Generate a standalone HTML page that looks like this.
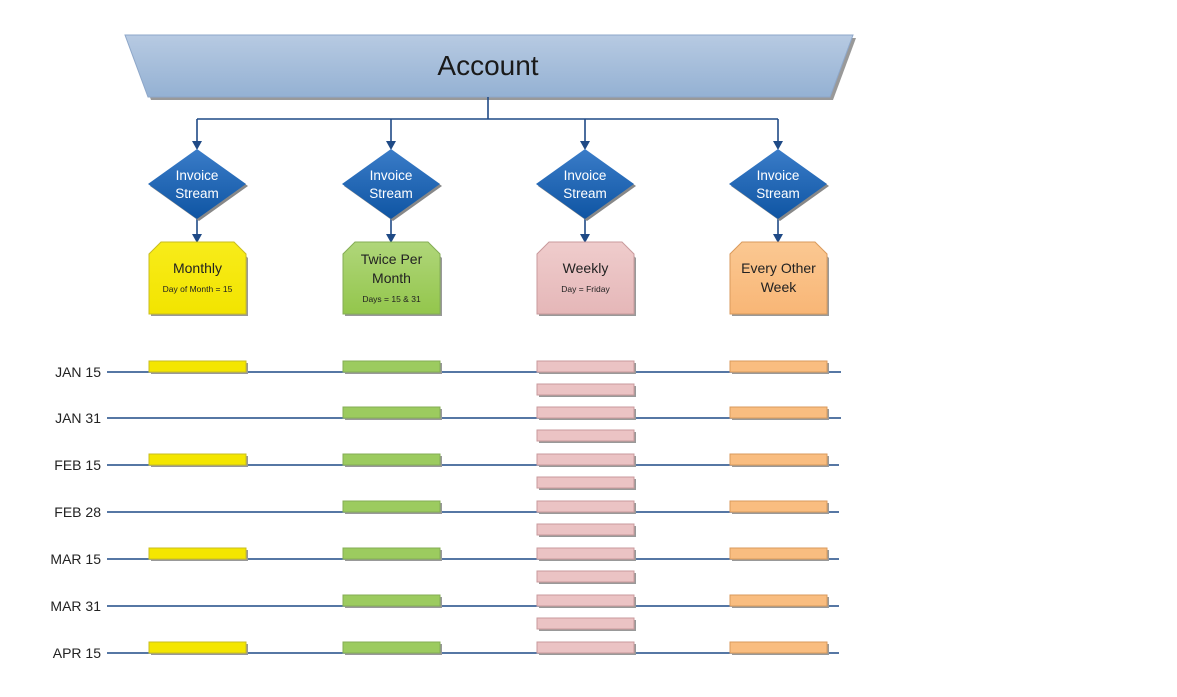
<!DOCTYPE html>
<html><head><meta charset="utf-8"><style>
html,body{margin:0;padding:0;background:#fff;}
svg{display:block;font-family:"Liberation Sans",sans-serif;}
</style></head><body>
<svg width="1177" height="697" viewBox="0 0 1177 697" xmlns="http://www.w3.org/2000/svg">
<defs>
<linearGradient id="acc" x1="0" y1="0" x2="0" y2="1"><stop offset="0" stop-color="#b7cae2"/><stop offset="1" stop-color="#94b1d3"/></linearGradient>
<linearGradient id="dia" x1="0" y1="0" x2="0" y2="1"><stop offset="0" stop-color="#3a7cc8"/><stop offset="1" stop-color="#0f55a3"/></linearGradient>
<linearGradient id="yel" x1="0" y1="0" x2="0" y2="1"><stop offset="0" stop-color="#f8ec1a"/><stop offset="1" stop-color="#f2e400"/></linearGradient>
<linearGradient id="grn" x1="0" y1="0" x2="0" y2="1"><stop offset="0" stop-color="#b0d67a"/><stop offset="1" stop-color="#93c64c"/></linearGradient>
<linearGradient id="pnk" x1="0" y1="0" x2="0" y2="1"><stop offset="0" stop-color="#efcccc"/><stop offset="1" stop-color="#e5b7b8"/></linearGradient>
<linearGradient id="org" x1="0" y1="0" x2="0" y2="1"><stop offset="0" stop-color="#fbc892"/><stop offset="1" stop-color="#f8b676"/></linearGradient>
</defs>
<!-- Account -->
<polygon points="128,38 856,38 833,100 151,100" fill="#999"/>
<polygon points="125,35 853,35 830,97 148,97" fill="url(#acc)" stroke="#8ea7c9" stroke-width="1"/>
<text x="488" y="75" font-size="28" text-anchor="middle" fill="#1a1a1a">Account</text>
<!-- connectors -->
<g stroke="#1f4a86" stroke-width="1.6" fill="none">
<line x1="488" y1="97" x2="488" y2="119"/>
<line x1="197" y1="119" x2="778" y2="119"/>
<line x1="197" y1="119" x2="197" y2="142"/>
<line x1="391" y1="119" x2="391" y2="142"/>
<line x1="585" y1="119" x2="585" y2="142"/>
<line x1="778" y1="119" x2="778" y2="142"/>
<line x1="197" y1="219" x2="197" y2="235"/>
<line x1="391" y1="219" x2="391" y2="235"/>
<line x1="585" y1="219" x2="585" y2="235"/>
<line x1="778" y1="219" x2="778" y2="235"/>
</g>
<g fill="#1f4a86">
<polygon points="192,141 202,141 197,150"/><polygon points="386,141 396,141 391,150"/><polygon points="580,141 590,141 585,150"/><polygon points="773,141 783,141 778,150"/>
<polygon points="192,234 202,234 197,243"/><polygon points="386,234 396,234 391,243"/><polygon points="580,234 590,234 585,243"/><polygon points="773,234 783,234 778,243"/>
</g>
<!-- diamonds -->
<g font-size="13.5" fill="#fff" text-anchor="middle">
<g transform="translate(197,184)"><polygon points="2,-33 51,2 2,37 -47,2" fill="#888"/><polygon points="0,-35 49,0 0,35 -49,0" fill="url(#dia)"/><text y="-4" fill="#fff">Invoice</text><text y="14" fill="#fff">Stream</text></g>
<g transform="translate(391,184)"><polygon points="2,-33 51,2 2,37 -47,2" fill="#888"/><polygon points="0,-35 49,0 0,35 -49,0" fill="url(#dia)"/><text y="-4" fill="#fff">Invoice</text><text y="14" fill="#fff">Stream</text></g>
<g transform="translate(585,184)"><polygon points="2,-33 51,2 2,37 -47,2" fill="#888"/><polygon points="0,-35 49,0 0,35 -49,0" fill="url(#dia)"/><text y="-4" fill="#fff">Invoice</text><text y="14" fill="#fff">Stream</text></g>
<g transform="translate(778,184)"><polygon points="2,-33 51,2 2,37 -47,2" fill="#888"/><polygon points="0,-35 49,0 0,35 -49,0" fill="url(#dia)"/><text y="-4" fill="#fff">Invoice</text><text y="14" fill="#fff">Stream</text></g>
</g>
<!-- boxes -->
<g text-anchor="middle" fill="#222">
<g transform="translate(149,242)"><polygon points="14,2 85,2 99,16 99,74 2,74 2,16" fill="#999"/><polygon points="12,0 85,0 97,12 97,72 0,72 0,12" fill="url(#yel)" stroke="#c9bd20"/><text x="48.5" y="31" font-size="14">Monthly</text><text x="48.5" y="50" font-size="8.5">Day of Month = 15</text></g>
<g transform="translate(343,242)"><polygon points="14,2 85,2 99,16 99,74 2,74 2,16" fill="#999"/><polygon points="12,0 85,0 97,12 97,72 0,72 0,12" fill="url(#grn)" stroke="#84ad55"/><text x="48.5" y="22" font-size="14">Twice Per</text><text x="48.5" y="41" font-size="14">Month</text><text x="48.5" y="60" font-size="8.5">Days = 15 &amp; 31</text></g>
<g transform="translate(537,242)"><polygon points="14,2 85,2 99,16 99,74 2,74 2,16" fill="#999"/><polygon points="12,0 85,0 97,12 97,72 0,72 0,12" fill="url(#pnk)" stroke="#c99a9c"/><text x="48.5" y="31" font-size="14">Weekly</text><text x="48.5" y="50" font-size="8.5">Day = Friday</text></g>
<g transform="translate(730,242)"><polygon points="14,2 85,2 99,16 99,74 2,74 2,16" fill="#999"/><polygon points="12,0 85,0 97,12 97,72 0,72 0,12" fill="url(#org)" stroke="#d99a5c"/><text x="48.5" y="31" font-size="14">Every Other</text><text x="48.5" y="50" font-size="14">Week</text></g>
</g>
<!-- timeline -->
<g id="tl"></g>
<g font-size="14" fill="#222" text-anchor="end">
<text x="101" y="377">JAN 15</text><text x="101" y="423">JAN 31</text><text x="101" y="470">FEB 15</text><text x="101" y="517">FEB 28</text><text x="101" y="564">MAR 15</text><text x="101" y="611">MAR 31</text><text x="101" y="658">APR 15</text>
</g>
<g stroke="#1f4a86" stroke-width="1.4">
<line x1="107" y1="372" x2="841" y2="372"/><line x1="107" y1="418" x2="841" y2="418"/><line x1="107" y1="465" x2="839" y2="465"/><line x1="107" y1="512" x2="839" y2="512"/><line x1="107" y1="559" x2="839" y2="559"/><line x1="107" y1="606" x2="839" y2="606"/><line x1="107" y1="653" x2="839" y2="653"/>
</g>
<script>
(function(){
var g=document.getElementById('tl'),ns='http://www.w3.org/2000/svg';
function bar(x,y,fill,st){
 var s=document.createElementNS(ns,'rect');s.setAttribute('x',x+2);s.setAttribute('y',y+2);s.setAttribute('width',97);s.setAttribute('height',11);s.setAttribute('fill','#999');g.parentNode.appendChild(s);
 var r=document.createElementNS(ns,'rect');r.setAttribute('x',x);r.setAttribute('y',y);r.setAttribute('width',97);r.setAttribute('height',11);r.setAttribute('fill',fill);r.setAttribute('stroke',st);g.parentNode.appendChild(r);
}
var rows=[372,418,465,512,559,606,653];
rows.forEach(function(y,i){
 if(i%2==0) bar(149,y-11,'#f4e600','#c9bd20');
 bar(343,y-11,'#9ccb5f','#84ad55');
 bar(537,y-11,'#ebc3c4','#c99a9c');
 if(i<6) bar(537,y+12,'#ebc3c4','#c99a9c');
 bar(730,y-11,'#f9bd80','#d99a5c');
});
})();
</script>
</svg>
</body></html>
